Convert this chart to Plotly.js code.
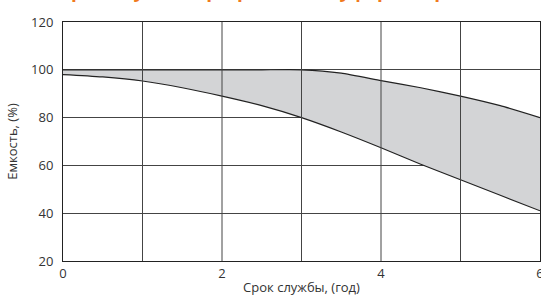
<!DOCTYPE html>
<html>
<head>
<meta charset="utf-8">
<script src="https://cdn.plot.ly/plotly-3.0.1.min.js"></script>
<style>html,body{margin:0;padding:0;background:#fff;overflow:hidden}#chart{width:541px;height:296px}</style>
</head>
<body>
<div id="chart"></div>
<script>
const years = [0, 0.5, 1, 1.5, 2, 2.5, 3, 3.5, 4, 4.5, 5, 5.5, 6];
const upperCapacity = [100, 100, 100, 100, 100, 100, 100, 98.6, 95.5, 92.5, 89, 85, 80];
const lowerCapacity = [98, 97, 95.3, 92.5, 89, 85, 80, 74, 67.4, 60.5, 54, 47.5, 41];
const xTicks = [0, 2, 4, 6];
const yTicks = [20, 40, 60, 80, 100, 120];
const titleText = 'Срок службы при работе в буферном режиме';
const xTitle = 'Срок службы, (год)';
const yTitle = 'Емкость, (%)';

const font = 'Open Sans, Noto Sans, sans-serif';
const traces = [
  {x: years, y: lowerCapacity, type: 'scatter', mode: 'lines', line: {color: '#222', width: 1.2, shape: 'spline', smoothing: 0.8}, hoverinfo: 'skip'},
  {x: years, y: upperCapacity, type: 'scatter', mode: 'lines', line: {color: '#222', width: 1.2, shape: 'spline', smoothing: 0.5}, fill: 'tonexty', fillcolor: '#d3d4d6', hoverinfo: 'skip'}
];
const layout = {
  width: 541, height: 296,
  margin: {l: 63, r: 1, t: 22, b: 35},
  paper_bgcolor: '#fff', plot_bgcolor: '#fff',
  showlegend: false,
  font: {family: font, color: '#333', size: 13},
  xaxis: {
    range: [0, 6], tickvals: xTicks, ticktext: xTicks.map(String),
    showgrid: false, zeroline: false, showline: true, linecolor: '#222', linewidth: 1, mirror: true,
    ticks: '', ticklabelstandoff: 0, ticklabeloverflow: 'allow',
    tickfont: {family: font, size: 13, color: '#333'},
    title: {text: xTitle, font: {family: font, size: 13, color: '#333'}, standoff: 4}
  },
  yaxis: {
    range: [20, 120], tickvals: yTicks, ticktext: yTicks.map(String),
    showgrid: true, gridcolor: '#444', gridwidth: 1, zeroline: false,
    showline: true, linecolor: '#222', linewidth: 1, mirror: true,
    ticks: '', ticklabelstandoff: 6,
    tickfont: {family: font, size: 13, color: '#333'},
    title: {text: yTitle, font: {family: font, size: 13, color: '#333'}, standoff: 10}
  },
  shapes: [1, 2, 3, 4, 5].map(v => ({type: 'line', xref: 'x', yref: 'paper', x0: v, x1: v, y0: 0, y1: 1, line: {color: '#444', width: 1}, layer: 'above'})),
  annotations: [{
    text: '<b>' + titleText + '</b>', xref: 'paper', yref: 'paper', x: 0.47, y: 1.072,
    xanchor: 'center', yanchor: 'bottom', showarrow: false,
    font: {family: font, size: 19, color: '#f07a1e'}
  }]
};
Plotly.newPlot('chart', traces, layout, {displayModeBar: false, staticPlot: true});
</script>
</body>
</html>
